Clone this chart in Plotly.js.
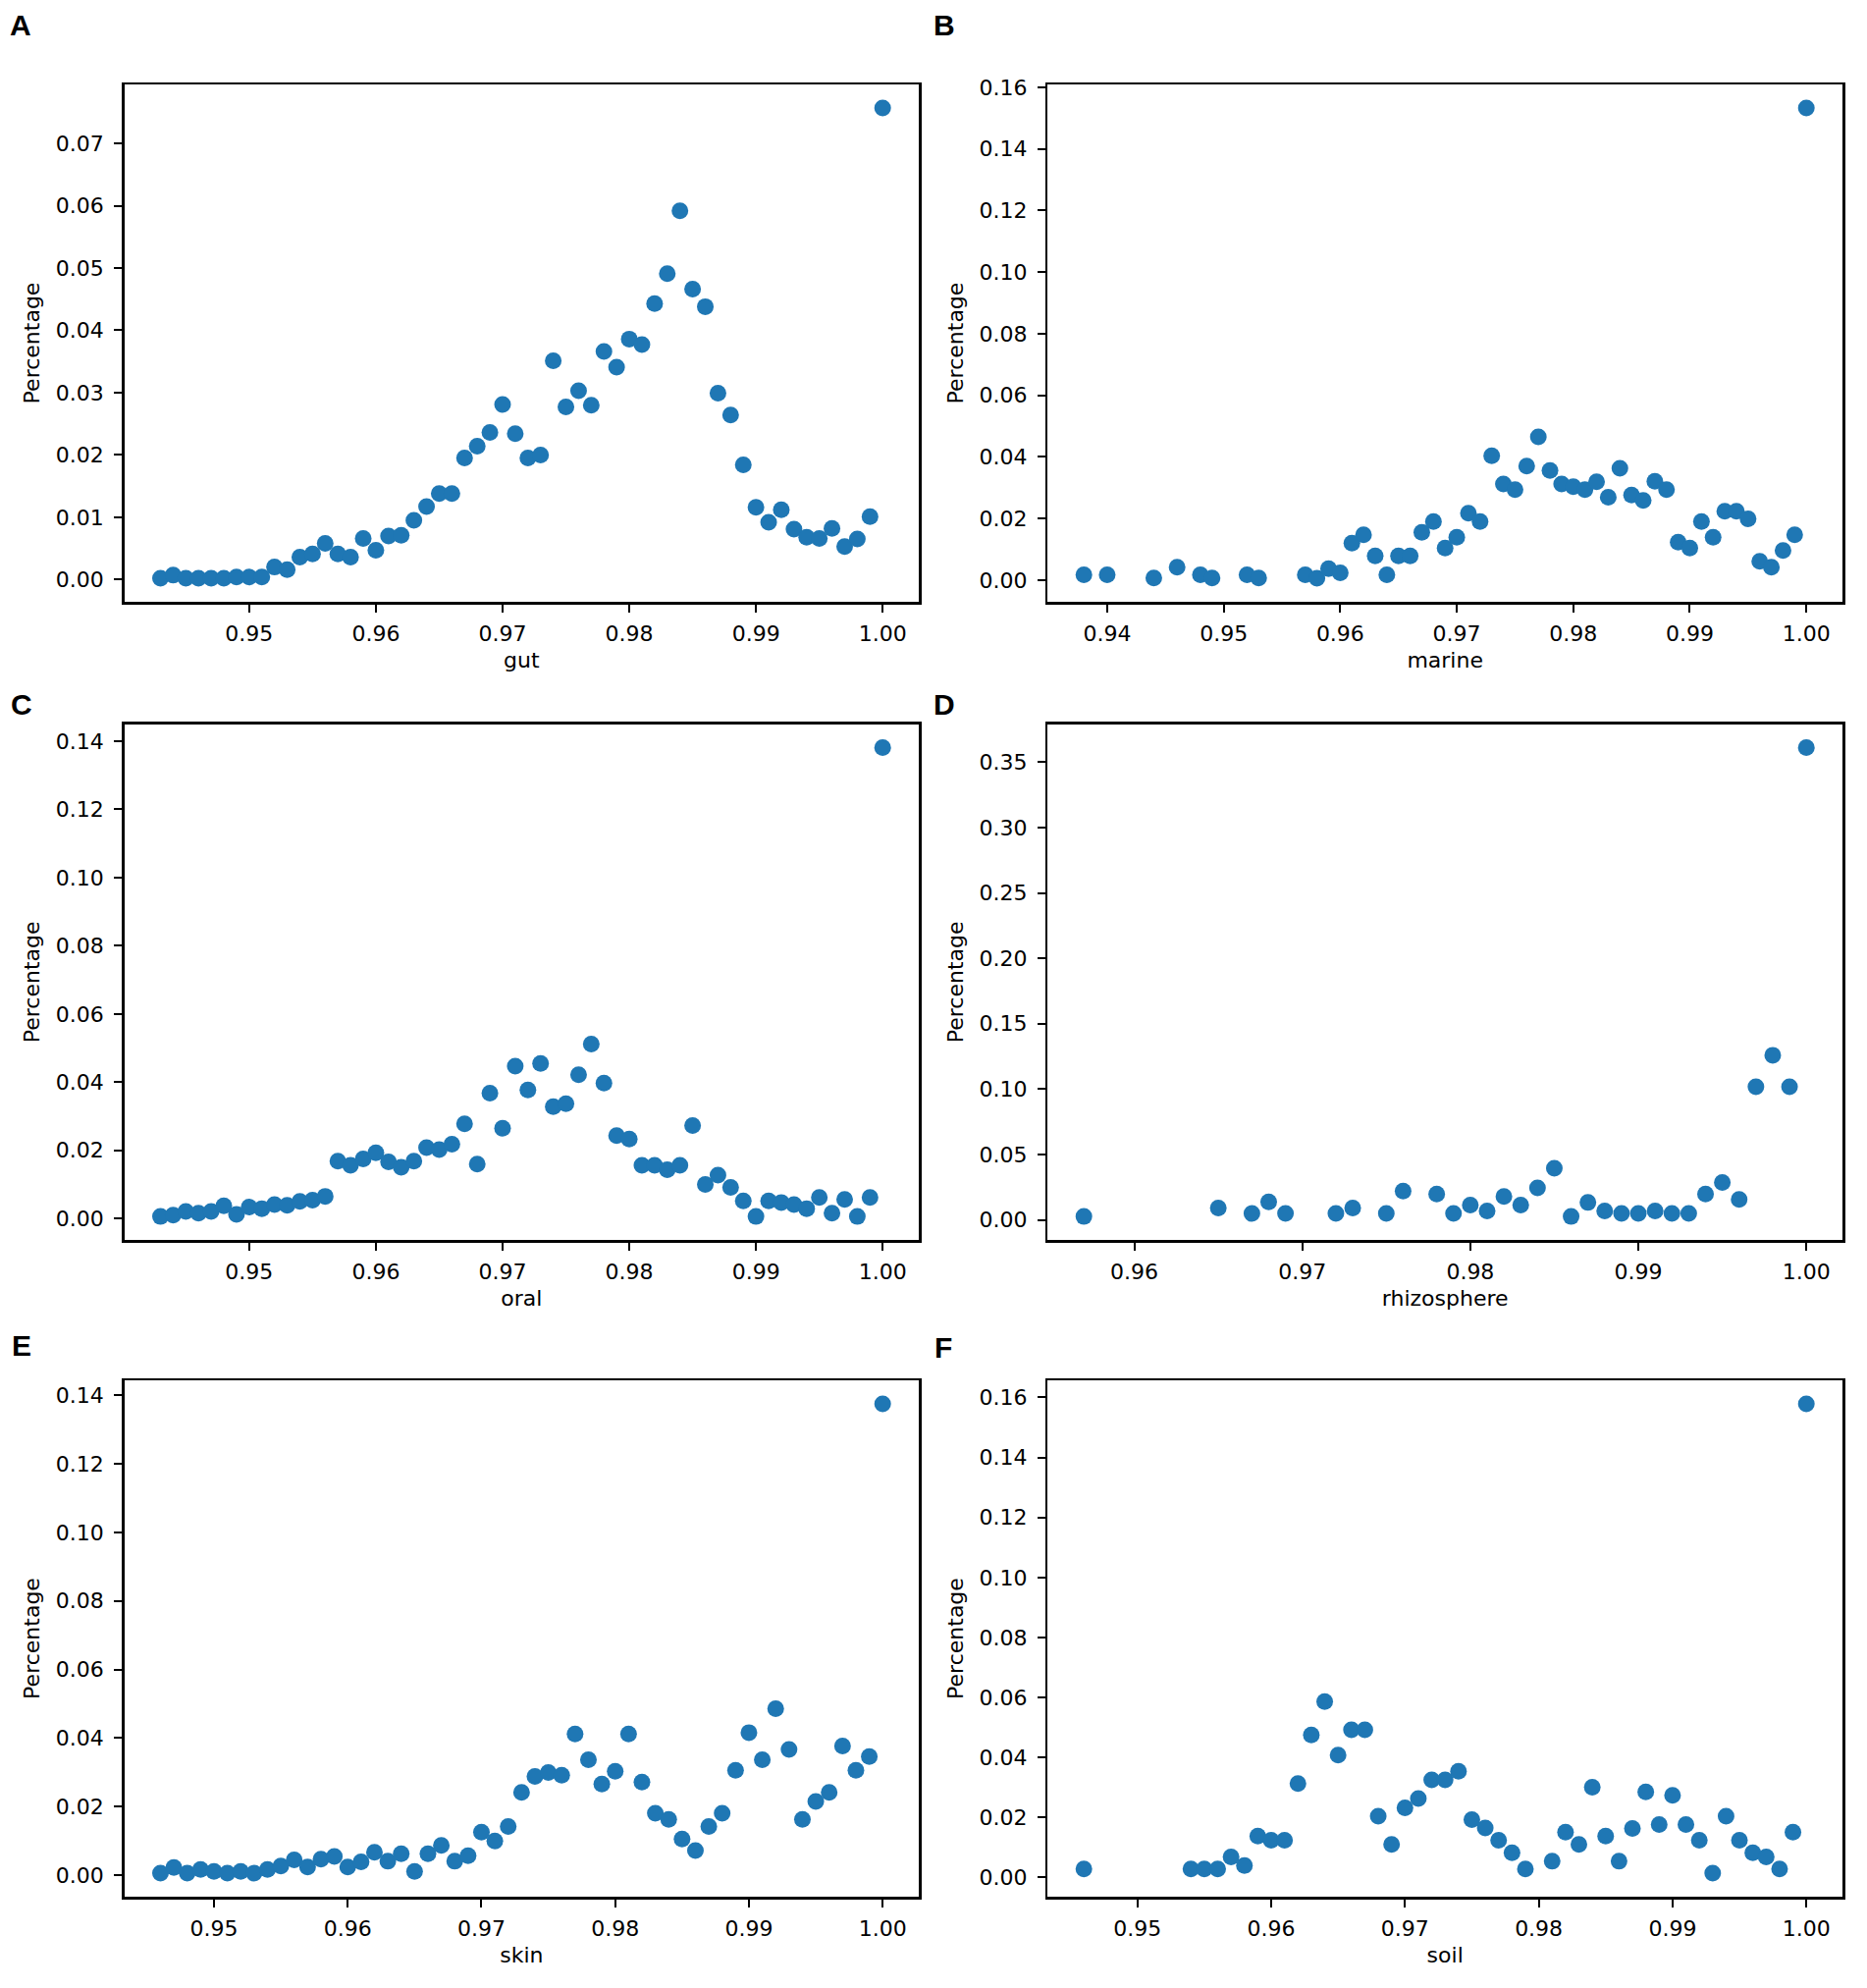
<!DOCTYPE html>
<html>
<head>
<meta charset="utf-8">
<script src="https://cdn.plot.ly/plotly-3.0.1.min.js"></script>
<style>html,body{margin:0;padding:0;background:#fff;}#chart{width:1902px;height:2025px;}</style>
</head>
<body>
<div id="chart"></div>
<script>
// ---- data ----
const panelLetters = ["A", "B", "C", "D", "E", "F"];
const envNames = ["gut", "marine", "oral", "rhizosphere", "skin", "soil"];

const gutX = [0.943,0.944,0.945,0.946,0.947,0.948,0.949,0.950,0.951,0.952,0.953,0.954,0.955,0.956,0.957,0.958,0.959,0.960,0.961,0.962,0.963,0.964,0.965,0.966,0.967,0.968,0.969,0.970,0.971,0.972,0.973,0.974,0.975,0.976,0.977,0.978,0.979,0.980,0.981,0.982,0.983,0.984,0.985,0.986,0.987,0.988,0.989,0.990,0.991,0.992,0.993,0.994,0.995,0.996,0.997,0.998,0.999,1.000];
const gutY = [0.0002,0.0007,0.0002,0.0002,0.0002,0.0002,0.0004,0.0004,0.0004,0.0020,0.0016,0.0036,0.0041,0.0058,0.0041,0.0036,0.0066,0.0047,0.0070,0.0071,0.0095,0.0117,0.0138,0.0138,0.0195,0.0214,0.0236,0.0281,0.0234,0.0195,0.0200,0.0351,0.0277,0.0303,0.0280,0.0366,0.0341,0.0386,0.0377,0.0443,0.0491,0.0592,0.0466,0.0438,0.0299,0.0264,0.0184,0.0116,0.0092,0.0112,0.0081,0.0068,0.0066,0.0082,0.0053,0.0065,0.0101,0.0757];

const marineX = [0.938,0.940,0.944,0.946,0.948,0.949,0.952,0.953,0.957,0.958,0.959,0.960,0.961,0.962,0.963,0.964,0.965,0.966,0.967,0.968,0.969,0.970,0.971,0.972,0.973,0.974,0.975,0.976,0.977,0.978,0.979,0.980,0.981,0.982,0.983,0.984,0.985,0.986,0.987,0.988,0.989,0.990,0.991,0.992,0.993,0.994,0.995,0.996,0.997,0.998,0.999,1.000];
const marineY = [0.0017,0.0017,0.0007,0.0042,0.0017,0.0007,0.0017,0.0007,0.0017,0.0006,0.0037,0.0024,0.0120,0.0147,0.0079,0.0017,0.0079,0.0079,0.0155,0.0190,0.0104,0.0139,0.0217,0.0190,0.0404,0.0312,0.0294,0.0370,0.0465,0.0356,0.0312,0.0303,0.0294,0.0319,0.0269,0.0363,0.0276,0.0259,0.0321,0.0294,0.0123,0.0104,0.0190,0.0139,0.0224,0.0224,0.0199,0.0061,0.0042,0.0096,0.0147,0.1533];

const oralX = [0.943,0.944,0.945,0.946,0.947,0.948,0.949,0.950,0.951,0.952,0.953,0.954,0.955,0.956,0.957,0.958,0.959,0.960,0.961,0.962,0.963,0.964,0.965,0.966,0.967,0.968,0.969,0.970,0.971,0.972,0.973,0.974,0.975,0.976,0.977,0.978,0.979,0.980,0.981,0.982,0.983,0.984,0.985,0.986,0.987,0.988,0.989,0.990,0.991,0.992,0.993,0.994,0.995,0.996,0.997,0.998,0.999,1.000];
const oralY = [0.0006,0.0010,0.0021,0.0016,0.0021,0.0037,0.0012,0.0034,0.0029,0.0041,0.0039,0.0050,0.0054,0.0065,0.0168,0.0156,0.0175,0.0193,0.0166,0.0150,0.0168,0.0208,0.0202,0.0218,0.0278,0.0160,0.0368,0.0265,0.0447,0.0377,0.0455,0.0328,0.0337,0.0422,0.0512,0.0397,0.0243,0.0233,0.0156,0.0156,0.0143,0.0156,0.0273,0.0100,0.0127,0.0091,0.0052,0.0006,0.0052,0.0047,0.0041,0.0029,0.0062,0.0016,0.0056,0.0006,0.0062,0.1381];

const rhizoX = [0.957,0.965,0.967,0.968,0.969,0.972,0.973,0.975,0.976,0.978,0.979,0.980,0.981,0.982,0.983,0.984,0.985,0.986,0.987,0.988,0.989,0.990,0.991,0.992,0.993,0.994,0.995,0.996,0.997,0.998,0.999,1.000];
const rhizoY = [0.0026,0.0091,0.0049,0.0137,0.0049,0.0049,0.0091,0.0049,0.0221,0.0198,0.0049,0.0114,0.0068,0.0179,0.0114,0.0244,0.0394,0.0026,0.0133,0.0068,0.0049,0.0049,0.0068,0.0049,0.0049,0.0198,0.0286,0.0156,0.1018,0.1259,0.1018,0.3611];

const skinX = [0.946,0.947,0.948,0.949,0.950,0.951,0.952,0.953,0.954,0.955,0.956,0.957,0.958,0.959,0.960,0.961,0.962,0.963,0.964,0.965,0.966,0.967,0.968,0.969,0.970,0.971,0.972,0.973,0.974,0.975,0.976,0.977,0.978,0.979,0.980,0.981,0.982,0.983,0.984,0.985,0.986,0.987,0.988,0.989,0.990,0.991,0.992,0.993,0.994,0.995,0.996,0.997,0.998,0.999,1.000];
const skinY = [0.0006,0.0023,0.0006,0.0017,0.0011,0.0006,0.0011,0.0006,0.0017,0.0027,0.0045,0.0024,0.0047,0.0055,0.0024,0.0039,0.0067,0.0041,0.0063,0.0011,0.0063,0.0087,0.0041,0.0057,0.0126,0.0100,0.0142,0.0242,0.0288,0.0300,0.0292,0.0412,0.0337,0.0266,0.0303,0.0412,0.0272,0.0181,0.0163,0.0106,0.0072,0.0142,0.0181,0.0306,0.0416,0.0337,0.0486,0.0367,0.0163,0.0215,0.0242,0.0377,0.0306,0.0346,0.1375];

const soilX = [0.946,0.954,0.955,0.956,0.957,0.958,0.959,0.960,0.961,0.962,0.963,0.964,0.965,0.966,0.967,0.968,0.969,0.970,0.971,0.972,0.973,0.974,0.975,0.976,0.977,0.978,0.979,0.981,0.982,0.983,0.984,0.985,0.986,0.987,0.988,0.989,0.990,0.991,0.992,0.993,0.994,0.995,0.996,0.997,0.998,0.999,1.000];
const soilY = [0.0028,0.0028,0.0028,0.0028,0.0068,0.0040,0.0138,0.0124,0.0124,0.0313,0.0475,0.0586,0.0408,0.0492,0.0492,0.0204,0.0110,0.0232,0.0263,0.0325,0.0325,0.0354,0.0193,0.0165,0.0124,0.0082,0.0028,0.0054,0.0151,0.0110,0.0301,0.0138,0.0054,0.0163,0.0285,0.0176,0.0274,0.0176,0.0124,0.0014,0.0204,0.0124,0.0082,0.0068,0.0028,0.0151,0.1579];

const xTickStep = [0.01, 0.01, 0.01, 0.01, 0.01, 0.01];
const yTickStep = [0.01, 0.02, 0.02, 0.05, 0.02, 0.02];
const yAxisTitle = "Percentage";

// ---- layout / drawing ----
const seriesX = [gutX, marineX, oralX, rhizoX, skinX, soilX];
const seriesY = [gutY, marineY, oralY, rhizoY, skinY, soilY];

const W = 1902, H = 2025;
const colPx = [[126.7, 936], [1067.4, 1877]];
const rowPx = [[86, 613], [737.7, 1263], [1406, 1932]];
const letterPos = [[21, 26], [962, 26], [22, 717], [962, 717], [22, 1370], [961, 1372]];

function padRange(arr) {
  const mn = Math.min(...arr), mx = Math.max(...arr);
  const p = (mx - mn) * 0.05;
  return [mn - p, mx + p];
}

const font = {family: "DejaVu Sans", size: 22, color: "#000"};
const traces = [];
const layout = {
  width: W, height: H,
  margin: {l: 0, r: 0, t: 0, b: 0},
  paper_bgcolor: "#fff", plot_bgcolor: "#fff",
  showlegend: false,
  font: font,
  annotations: []
};

for (let i = 0; i < 6; i++) {
  const col = i % 2, row = Math.floor(i / 2);
  const sfx = i === 0 ? "" : String(i + 1);
  traces.push({
    type: "scatter", mode: "markers",
    x: seriesX[i], y: seriesY[i],
    xaxis: "x" + sfx, yaxis: "y" + sfx,
    marker: {color: "#1f77b4", size: 17, line: {width: 0}},
    hoverinfo: "x+y"
  });
  const common = {
    showline: true, linecolor: "#000", linewidth: 2.5, mirror: true,
    ticks: "outside", ticklen: 8, tickwidth: 2, tickcolor: "#000",
    showgrid: false, zeroline: false, tickformat: ".2f",
    tickfont: font
  };
  layout["xaxis" + sfx] = Object.assign({}, common, {
    domain: [colPx[col][0] / W, colPx[col][1] / W],
    anchor: "y" + sfx,
    range: padRange(seriesX[i]),
    dtick: xTickStep[i], tick0: 0,
    ticklabelstandoff: 3,
    title: {text: envNames[i], font: font, standoff: 8}
  });
  layout["yaxis" + sfx] = Object.assign({}, common, {
    domain: [1 - rowPx[row][1] / H, 1 - rowPx[row][0] / H],
    anchor: "x" + sfx,
    range: padRange(seriesY[i]),
    dtick: yTickStep[i], tick0: 0,
    ticklabelstandoff: 6,
    title: {text: yAxisTitle, font: font, standoff: 10}
  });
  layout.annotations.push({
    text: "<b>" + panelLetters[i] + "</b>",
    xref: "paper", yref: "paper",
    x: letterPos[i][0] / W, y: 1 - letterPos[i][1] / H,
    xanchor: "center", yanchor: "middle", showarrow: false,
    font: {family: "Liberation Sans", size: 30, color: "#000"}
  });
}

Plotly.newPlot("chart", traces, layout, {staticPlot: true});
</script>
</body>
</html>
